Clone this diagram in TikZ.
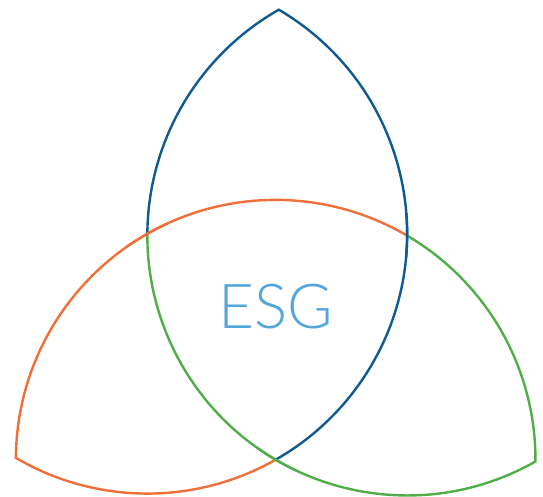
\documentclass[tikz,border=0pt]{standalone}
\usepackage{fontspec}
\usetikzlibrary{calc}
\newfontfamily\esgfont{Lato}[UprightFont=* Light]
\definecolor{esgblue}{HTML}{0F5A91}
\definecolor{esgorange}{HTML}{F06E37}
\definecolor{esggreen}{HTML}{50AE48}
\definecolor{esgtext}{HTML}{52A6DA}
\begin{document}
\begin{tikzpicture}[x=1pt,y=1pt,
  ring/.style={line width=2.4pt,line join=miter,line cap=butt}]
\useasboundingbox (0,0) rectangle (543,496);
\def\dd{-0.4}
\def\RR{259.8}
\coordinate (O) at (276.7,186.3);
\coordinate (C1) at ($(O)+(30+\dd:150)$);
\coordinate (C2) at ($(O)+(150+\dd:150)$);
\coordinate (C3) at ($(O)+(270+\dd:150)$);
% blue lens
\draw[ring,esgblue] ($(C1)+(180+\dd:\RR)$) arc[start angle=180+\dd,end angle=120+\dd,radius=\RR]
  arc[start angle=60+\dd,end angle=-60+\dd,radius=\RR];
% orange lens
\draw[ring,esgorange] ($(C2)+(-60+\dd:\RR)$) arc[start angle=-60+\dd,end angle=-120+\dd,radius=\RR]
  arc[start angle=180+\dd,end angle=60+\dd,radius=\RR];
% green lens
\draw[ring,esggreen] ($(C3)+(60+\dd:\RR)$) arc[start angle=60+\dd,end angle=0+\dd,radius=\RR]
  arc[start angle=300+\dd,end angle=180+\dd,radius=\RR];
% over-crossings
\draw[ring,esgorange] ($(C3)+(125+\dd:\RR)$) arc[start angle=125+\dd,end angle=115+\dd,radius=\RR];
\draw[ring,esgblue] ($(C2)+(5+\dd:\RR)$) arc[start angle=5+\dd,end angle=-5+\dd,radius=\RR];
\draw[ring,esggreen] ($(C1)+(245+\dd:\RR)$) arc[start angle=245+\dd,end angle=235+\dd,radius=\RR];
\node[anchor=base,inner sep=0pt,text=esgtext,font=\esgfont\fontsize{62}{62}\selectfont] (esg) at (275.5,168) {ESG};
\end{tikzpicture}
\end{document}
